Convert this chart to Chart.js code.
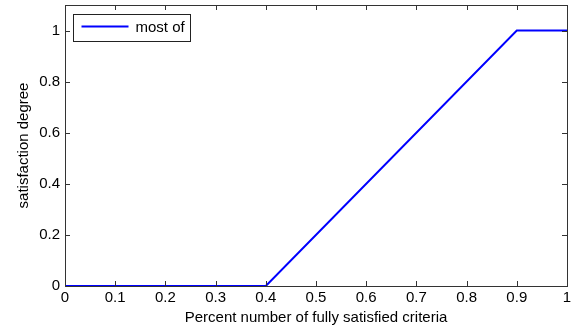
<!DOCTYPE html>
<html>
<head>
<meta charset="utf-8">
<script src="https://cdn.jsdelivr.net/npm/chart.js@4"></script>
<style>
    html, body { margin: 0; padding: 0; background: #fff; }
    #wrap { width: 579px; height: 330px; }
</style>
</head>
<body>
<div id="wrap"><canvas id="graficoMostOf"></canvas></div>
<script>
// dados
const serieNome = 'most of';
const xValores = [0, 0.4, 0.9, 1];
const yValores = [0, 0, 1, 1];
const xTicks = [0, 0.1, 0.2, 0.3, 0.4, 0.5, 0.6, 0.7, 0.8, 0.9, 1];
const yTicks = [0, 0.2, 0.4, 0.6, 0.8, 1];

const familia = 'Liberation Sans, Arial, sans-serif';
const fonte = { family: familia, size: 15 };

let pontos = [];
for (let i = 0; i < xValores.length; i++) {
    pontos.push({ x: xValores[i], y: yValores[i] });
}

// moldura, ticks para dentro e legenda com caixa (estilo matlab)
const molduraPlugin = {
    id: 'moldura',
    afterDraw(chart) {
        const ctx = chart.ctx;
        const a = chart.chartArea;
        const sx = chart.scales.x;
        const sy = chart.scales.y;
        ctx.save();
        ctx.strokeStyle = '#333';
        ctx.lineWidth = 1;
        ctx.beginPath();
        xTicks.forEach(function (v) {
            let px = Math.round(sx.getPixelForValue(v)) + 0.5;
            ctx.moveTo(px, a.bottom); ctx.lineTo(px, a.bottom - 5);
            ctx.moveTo(px, a.top); ctx.lineTo(px, a.top + 5);
        });
        yTicks.forEach(function (v) {
            let py = Math.round(sy.getPixelForValue(v)) + 0.5;
            ctx.moveTo(a.left, py); ctx.lineTo(a.left + 5, py);
            ctx.moveTo(a.right, py); ctx.lineTo(a.right - 5, py);
        });
        ctx.stroke();
        ctx.strokeRect(Math.round(a.left) + 0.5, Math.round(a.top) + 0.5,
            Math.round(a.right - a.left), Math.round(a.bottom - a.top));

        // legenda
        const lx = Math.round(a.left) + 8.5, ly = Math.round(a.top) + 9.5, lw = 117, lh = 27;
        ctx.fillStyle = '#fff';
        ctx.fillRect(lx, ly, lw, lh);
        ctx.strokeStyle = '#222';
        ctx.strokeRect(lx, ly, lw, lh);
        ctx.strokeStyle = '#0000ff';
        ctx.lineWidth = 2;
        ctx.beginPath();
        ctx.moveTo(lx + 8, ly + 12);
        ctx.lineTo(lx + 55, ly + 12);
        ctx.stroke();
        ctx.fillStyle = '#000';
        ctx.font = fonte.size + 'px ' + familia;
        ctx.textBaseline = 'middle';
        ctx.fillText(serieNome, lx + 62, ly + 13);
        ctx.restore();
    }
};

const configMostOf = {
    type: 'scatter',
    data: {
        datasets: [{
            label: serieNome,
            data: pontos,
            showLine: true,
            borderColor: '#0000ff',
            backgroundColor: '#0000ff',
            borderWidth: 2,
            pointRadius: 0,
            tension: 0
        }]
    },
    options: {
        responsive: true,
        maintainAspectRatio: false,
        animation: false,
        layout: { padding: { top: 5, right: 12, left: 0, bottom: 0 } },
        plugins: {
            legend: { display: false },
            tooltip: { enabled: false }
        },
        scales: {
            x: {
                type: 'linear',
                min: 0,
                max: 1,
                afterBuildTicks: function (scale) { scale.ticks = xTicks.map(v => ({ value: v })); },
                afterFit: function (scale) {
                    scale.height = 44;
                    scale.paddingLeft = 0;
                    scale.paddingRight = 0;
                },
                grid: { display: false, drawTicks: false },
                border: { display: false },
                ticks: {
                    color: '#000',
                    font: fonte,
                    padding: 3,
                    maxRotation: 0,
                    autoSkip: false,
                    callback: function (v) { return String(Number(v.toFixed(1))); }
                },
                title: {
                    display: true,
                    text: 'Percent number of fully satisfied criteria',
                    color: '#000',
                    font: fonte,
                    padding: { top: 0, bottom: 3 }
                }
            },
            y: {
                type: 'linear',
                min: 0,
                max: 1.1,
                afterBuildTicks: function (scale) { scale.ticks = yTicks.map(v => ({ value: v })); },
                afterFit: function (scale) {
                    scale.width = 65;
                    scale.paddingTop = 0;
                    scale.paddingBottom = 0;
                },
                grid: { display: false, drawTicks: false },
                border: { display: false },
                ticks: {
                    color: '#000',
                    font: fonte,
                    padding: 5,
                    autoSkip: false,
                    callback: function (v) { return String(Number(v.toFixed(1))); }
                },
                title: {
                    display: true,
                    text: 'satisfaction degree',
                    color: '#000',
                    font: fonte,
                    padding: { top: 15, bottom: 0 }
                }
            }
        }
    },
    plugins: [molduraPlugin]
};

let graficoMostOf = new Chart(document.getElementById('graficoMostOf'), configMostOf);
</script>
</body>
</html>
